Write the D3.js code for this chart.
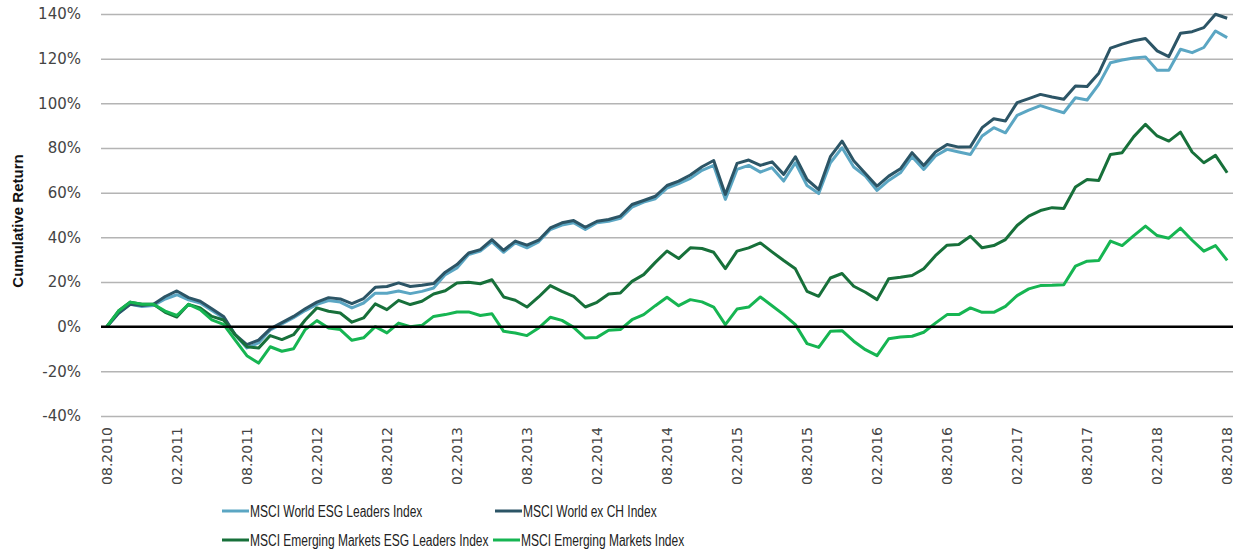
<!DOCTYPE html>
<html>
<head>
<meta charset="utf-8">
<script src="https://cdn.jsdelivr.net/npm/d3@7"></script>
<style>
  body { margin: 0; background: #fff; }
  svg { display: block; }
</style>
</head>
<body>
<div id="chart"></div>
<script>
// monthly cumulative returns in %, 08.2010 .. 08.2018
const worldEsg = [0,6,10,9,9.5,12.4,14.3,12,10.6,7.3,3.9,-3.6,-9.5,-7.3,-1.5,1.2,4,7.2,10,11.7,11,8.4,10.6,15,15,16,14.8,15.8,17.3,23.3,26.3,32.3,33.8,38,33.3,37.5,35.3,38,43.5,45.5,46.5,43.5,46.5,47.2,48.5,53.5,55.8,57.3,62,64.1,66.4,70,72.2,57,70.4,72.2,69.2,71.2,65.2,73.4,63.2,59.6,73.4,80.1,71.5,67.4,61,65.5,68.9,76.1,70.4,76.4,79.4,78.2,77.1,85.4,89.1,86.8,94.6,97,99,97.3,95.8,102.5,101.5,108.5,118.2,119.4,120.3,120.8,114.8,114.8,124.2,122.7,125,132.4,129.4];
const worldExCh = [0,6,10,9.5,10,13.5,16,13,11.4,8,4.6,-3.6,-8,-6,-1,1.8,4.6,8,11,13,12.4,10.3,12.6,17.6,18,19.6,18,18.5,19.3,24.4,27.8,33,34.5,39,34.2,38.3,36.5,38.7,44.2,46.5,47.5,44.5,47.2,48,49.5,54.7,56.5,58.4,63.2,65.2,67.9,71.6,74.4,59.2,73.1,74.6,72.2,73.8,68.2,76.1,65.9,61.4,76.1,83.1,74.3,68.6,62.9,67.4,70.7,77.9,72.2,78.2,81.6,80.4,80.6,89.1,93.1,92.1,100.3,102.1,104,102.8,101.8,107.8,107.5,113.5,124.7,126.5,128,129,123.5,120.9,131.4,132.1,133.9,139.9,138.1];
const emEsg = [0,7,11,10,10,6.4,4.3,10,8.4,4.6,3,-3.6,-9,-9.6,-4,-5.8,-3.6,3,8.4,6.9,6.1,2,3.9,10.2,7.6,11.8,9.9,11.4,14.6,16.1,19.6,19.9,19.2,21,13.3,11.8,8.8,13.3,18.4,15.8,13.6,8.8,10.9,14.6,15.1,20.3,23.3,28.8,33.9,30.5,35.3,35,33.3,26,33.8,35.3,37.5,33.5,29.6,25.9,15.8,13.6,21.8,23.8,18.1,15.4,12.1,21.5,22.1,22.9,25.9,31.8,36.5,36.8,40.5,35.3,36.3,39,45.3,49.5,52,53.3,52.9,62.5,65.9,65.5,77.1,77.9,85.1,90.6,85.4,83.1,87.1,78.2,73.4,76.7,68.9];
const em = [0,7,11,10,10,7,5,10,7.6,3,1,-6,-13,-16.3,-9,-11,-9.9,-1.3,2.7,-0.6,-1.3,-6.1,-5,0,-2.8,1.6,0,0.6,4.6,5.4,6.6,6.6,5,5.8,-2.1,-2.8,-4,-0.6,4.2,2.8,-0.3,-5.1,-4.8,-1.6,-1.3,3.1,5.4,9.4,13.2,9.4,12.1,11.1,8.8,0.9,7.9,8.8,13.3,9.4,5.4,0.9,-7.6,-9.3,-2.1,-1.8,-6.5,-10.3,-13,-5.4,-4.6,-4.3,-2.5,1.6,5.4,5.4,8.4,6.4,6.4,9.1,13.9,16.9,18.4,18.5,18.8,27.1,29.3,29.6,38.3,36.3,40.8,45,40.8,39.6,44.1,38.7,33.8,36.3,29.7];

const xTickLabels = ["08.2010","02.2011","08.2011","02.2012","08.2012","02.2013","08.2013","02.2014","08.2014","02.2015","08.2015","02.2016","08.2016","02.2017","08.2017","02.2018","08.2018"];
const yTicks = [-40,-20,0,20,40,60,80,100,120,140];

const seriesNames = ["MSCI World ESG Leaders Index","MSCI World ex CH Index","MSCI Emerging Markets ESG Leaders Index","MSCI Emerging Markets Index"];
const seriesColors = ["#5ba6c3","#2c5566","#17703a","#16b552"];
const seriesData = [worldEsg, worldExCh, emEsg, em];

// month labels for each data point
const fmt = d3.timeFormat("%m.%Y");
const months = d3.timeMonth.range(new Date(2010,7,1), new Date(2018,8,1)).map(fmt);

const W = 1235, H = 550;
const svg = d3.select("#chart").append("svg").attr("width", W).attr("height", H);

const plotLeft = 101, plotRight = 1233, plotTop = 14, plotBottom = 416;

const x = d3.scalePoint().domain(months).range([plotLeft, plotRight]).padding(0.5);
const y = d3.scaleLinear().domain([-40, 140]).range([plotBottom, plotTop]);

// y axis + gridlines
const yAxis = svg.append("g")
  .attr("transform", `translate(${plotLeft},0)`)
  .call(d3.axisLeft(y).tickValues(yTicks).tickSize(-(plotRight - plotLeft)).tickPadding(20).tickFormat(d => d + "%"));
yAxis.select(".domain").remove();
yAxis.selectAll("line").attr("stroke", "#b4b4b4").attr("stroke-width", 1.5);
yAxis.selectAll("text")
  .attr("font-family", "DejaVu Sans, sans-serif")
  .attr("font-size", 15)
  .attr("fill", "#444");

// x axis
const xAxis = svg.append("g")
  .attr("transform", `translate(0,${plotBottom})`)
  .call(d3.axisBottom(x).tickValues(xTickLabels).tickSize(0));
xAxis.select(".domain").remove();
xAxis.selectAll("text")
  .attr("transform", "rotate(-90)")
  .attr("text-anchor", "end")
  .attr("x", -11)
  .attr("y", 0)
  .attr("dy", "0.32em")
  .attr("font-family", "DejaVu Sans, sans-serif")
  .attr("font-size", 14)
  .attr("fill", "#444");

svg.append("text")
  .attr("transform", `translate(23,${(plotTop + plotBottom) / 2 + 6}) rotate(-90)`)
  .attr("text-anchor", "middle")
  .attr("font-family", "Liberation Sans, Arial, sans-serif")
  .attr("font-weight", "bold")
  .attr("font-size", 15)
  .attr("fill", "#111")
  .text("Cumulative Return");

const line = d3.line()
  .x((d, i) => x(months[i]))
  .y(d => y(d));

seriesData.forEach((s, k) => {
  svg.append("path")
    .datum(s)
    .attr("fill", "none")
    .attr("stroke", seriesColors[k])
    .attr("stroke-width", 3)
    .attr("stroke-linejoin", "round")
    .attr("d", line);
});

// zero line
svg.append("line")
  .attr("x1", plotLeft).attr("x2", plotRight)
  .attr("y1", y(0)).attr("y2", y(0))
  .attr("stroke", "#000").attr("stroke-width", 2.5);

// legend
const legendPos = [[222, 511], [495, 511], [222, 540], [493, 540]];
seriesNames.forEach((name, k) => {
  const g = svg.append("g").attr("transform", `translate(${legendPos[k][0]},${legendPos[k][1]})`);
  g.append("line")
    .attr("x1", 0).attr("x2", 27)
    .attr("stroke", seriesColors[k]).attr("stroke-width", 3);
  g.append("text")
    .attr("transform", "translate(28,0) scale(0.75,1)")
    .attr("dy", "0.35em")
    .attr("font-family", "Liberation Sans, Arial, sans-serif")
    .attr("font-size", 16)
    .attr("fill", "#222")
    .text(name);
});
</script>
</body>
</html>
